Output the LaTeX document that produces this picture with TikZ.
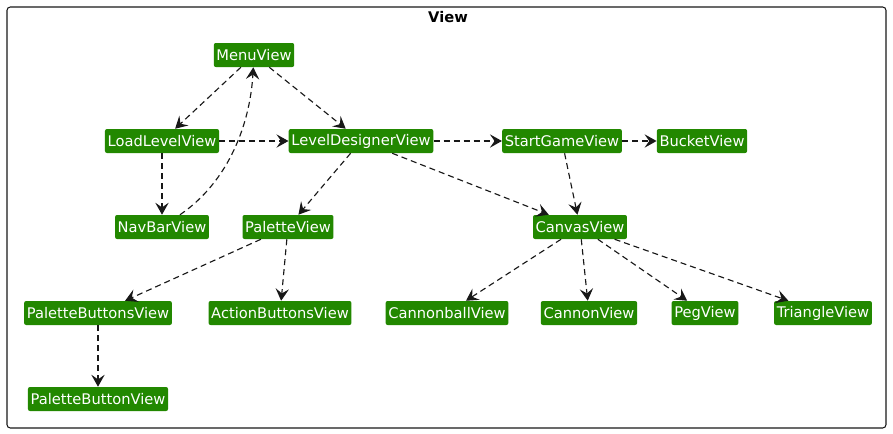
\documentclass[tikz,border=0pt]{standalone}
\usepackage{fontspec}
\setmainfont{DejaVu Sans}
\usetikzlibrary{arrows.meta}

\definecolor{viewgreen}{RGB}{34,136,0}
\definecolor{lineblack}{RGB}{24,24,24}

\begin{document}
\begin{tikzpicture}[x=0.75pt, y=-0.75pt,
    view/.style={fill=viewgreen, text=white, rounded corners=1.5pt, inner xsep=2pt, inner ysep=0pt, minimum height=18pt, font=\fontsize{11}{13}\selectfont},
    dep/.style={draw=lineblack, line width=0.85pt, dash pattern=on 4.5pt off 3pt, -{Stealth[length=9pt,width=10pt,inset=3.5pt]}}]

\useasboundingbox (0,0) rectangle (893,433);

% Package frame
\draw[lineblack, line width=0.8pt, rounded corners=2.5pt] (7,7) rectangle (886,428);
\node[font=\fontsize{11}{13}\selectfont\bfseries] (title) at (448,17) {View};

% Views
\node[view] (MenuView) at (254,55) {MenuView};
\node[view] (LoadLevelView) at (162,141) {LoadLevelView};
\node[view] (LevelDesignerView) at (361,141) {LevelDesignerView};
\node[view] (StartGameView) at (562,141) {StartGameView};
\node[view] (BucketView) at (702,141) {BucketView};
\node[view] (NavBarView) at (162,227) {NavBarView};
\node[view] (PaletteView) at (288,227) {PaletteView};
\node[view] (CanvasView) at (580,227) {CanvasView};
\node[view] (PaletteButtonsView) at (98,313) {PaletteButtonsView};
\node[view] (ActionButtonsView) at (280,313) {ActionButtonsView};
\node[view] (CannonballView) at (447,313) {CannonballView};
\node[view] (CannonView) at (589,313) {CannonView};
\node[view] (PegView) at (705,313) {PegView};
\node[view] (TriangleView) at (823,313) {TriangleView};
\node[view] (PaletteButtonView) at (98,399) {PaletteButtonView};

% Dependencies
\draw[dep] (MenuView) -- (LoadLevelView);
\draw[dep] (MenuView) -- (LevelDesignerView);
\draw[dep] (LoadLevelView) -- (LevelDesignerView);
\draw[dep] (LoadLevelView) -- (NavBarView);
\draw[dep] (NavBarView) .. controls (228,182) and (250,125) .. (MenuView);
\draw[dep] (LevelDesignerView) -- (StartGameView);
\draw[dep] (StartGameView) -- (BucketView);
\draw[dep] (LevelDesignerView) -- (PaletteView);
\draw[dep] (LevelDesignerView) -- (CanvasView);
\draw[dep] (StartGameView) -- (CanvasView);
\draw[dep] (PaletteView) -- (PaletteButtonsView);
\draw[dep] (PaletteView) -- (ActionButtonsView);
\draw[dep] (PaletteButtonsView) -- (PaletteButtonView);
\draw[dep] (CanvasView) -- (CannonballView);
\draw[dep] (CanvasView) -- (CannonView);
\draw[dep] (CanvasView) -- (PegView);
\draw[dep] (CanvasView) -- (TriangleView);

\end{tikzpicture}
\end{document}
